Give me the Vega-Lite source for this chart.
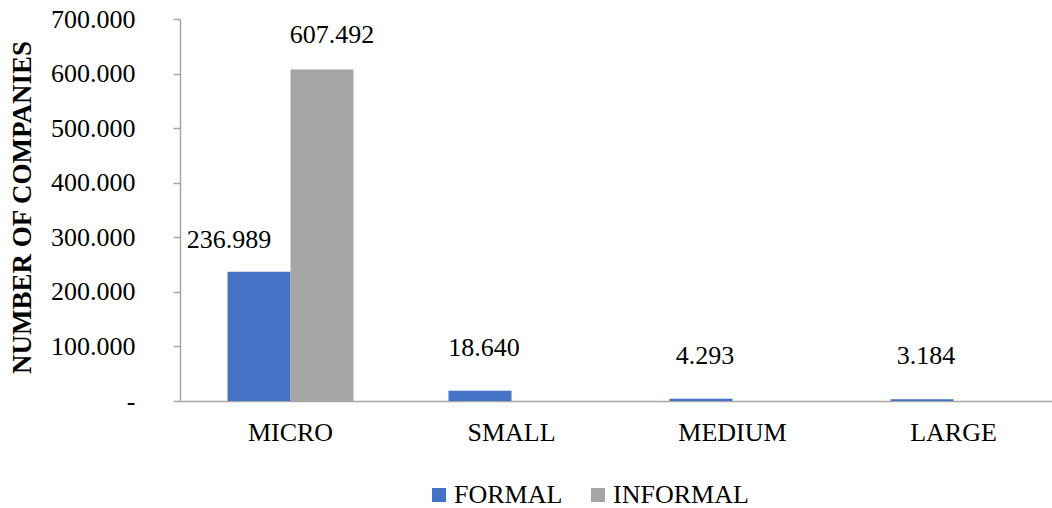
{
  "$schema": "https://vega.github.io/schema/vega-lite/v6.json",
  "width": 872,
  "height": 382,
  "autosize": {"type": "none"},
  "padding": {"left": 180, "top": 19, "right": 0, "bottom": 107},
  "background": "white",
  "data": {
    "values": [
      {"size": "MICRO", "sector": "FORMAL", "companies": 236989},
      {"size": "MICRO", "sector": "INFORMAL", "companies": 607492},
      {"size": "SMALL", "sector": "FORMAL", "companies": 18640},
      {"size": "MEDIUM", "sector": "FORMAL", "companies": 4293},
      {"size": "LARGE", "sector": "FORMAL", "companies": 3184}
    ]
  },
  "encoding": {
    "x": {
      "field": "size",
      "type": "nominal",
      "sort": ["MICRO", "SMALL", "MEDIUM", "LARGE"],
      "scale": {"paddingInner": 0.1086, "paddingOuter": 0.02715, "align": 1},
      "axis": {
        "title": null,
        "labelAngle": 0,
        "ticks": false,
        "tickSize": 0,
        "labelPadding": 18,
        "labelFont": "Times New Roman, Liberation Serif, serif",
        "labelFontSize": 26,
        "labelColor": "black",
        "domainColor": "#A6A6A6",
        "domainWidth": 1.5,
        "grid": false
      }
    },
    "xOffset": {
      "field": "sector",
      "type": "nominal",
      "scale": {"domain": ["FORMAL", "INFORMAL"], "paddingInner": 0, "paddingOuter": 0.5635}
    },
    "y": {
      "field": "companies",
      "type": "quantitative",
      "scale": {"domain": [0, 700000], "nice": false},
      "axis": {
        "title": "NUMBER OF COMPANIES",
        "values": [0, 100000, 200000, 300000, 400000, 500000, 600000, 700000],
        "labelExpr": "datum.value === 0 ? '-\u00a0\u00a0' : replace(format(datum.value, ',.0f'), ',', '.')",
        "labelFont": "Times New Roman, Liberation Serif, serif",
        "labelFontSize": 26,
        "labelColor": "black",
        "labelPadding": 38,
        "tickSize": 7,
        "tickColor": "#A6A6A6",
        "tickWidth": 1.5,
        "domainColor": "#A6A6A6",
        "domainWidth": 1.5,
        "grid": false,
        "titleFont": "Times New Roman, Liberation Serif, serif",
        "titleFontWeight": "bold",
        "titleFontSize": 27,
        "titleColor": "black",
        "titleAngle": -90,
        "titleAlign": "center",
        "titleBaseline": "middle",
        "titleX": -158,
        "titleY": 188
      }
    }
  },
  "layer": [
    {
      "mark": {"type": "bar"},
      "encoding": {
        "color": {
          "field": "sector",
          "type": "nominal",
          "scale": {"domain": ["FORMAL", "INFORMAL"], "range": ["#4472C4", "#A5A5A5"]},
          "legend": {
            "title": null,
            "orient": "none",
            "legendX": 246,
            "legendY": 463,
            "direction": "horizontal",
            "symbolType": "square",
            "symbolSize": 196,
            "symbolStrokeWidth": 0,
            "symbolOpacity": 1,
            "labelFont": "Times New Roman, Liberation Serif, serif",
            "labelFontSize": 26,
            "labelColor": "black",
            "labelOffset": 2,
            "columnPadding": 22,
            "padding": 0
          }
        }
      }
    },
    {
      "transform": [{"filter": "datum.size === 'MICRO' && datum.sector === 'FORMAL'"}],
      "mark": {
        "type": "text",
        "dx": -30,
        "dy": -24,
        "baseline": "alphabetic",
        "font": "Times New Roman, Liberation Serif, serif",
        "fontSize": 26,
        "color": "black",
        "text": {"expr": "replace(format(datum.companies, ',.0f'), ',', '.')"}
      }
    },
    {
      "transform": [{"filter": "datum.size === 'MICRO' && datum.sector === 'INFORMAL'"}],
      "mark": {
        "type": "text",
        "dx": 10,
        "dy": -26,
        "baseline": "alphabetic",
        "font": "Times New Roman, Liberation Serif, serif",
        "fontSize": 26,
        "color": "black",
        "text": {"expr": "replace(format(datum.companies, ',.0f'), ',', '.')"}
      }
    },
    {
      "transform": [{"filter": "datum.size !== 'MICRO'"}],
      "mark": {
        "type": "text",
        "dx": 4,
        "dy": -35,
        "baseline": "alphabetic",
        "font": "Times New Roman, Liberation Serif, serif",
        "fontSize": 26,
        "color": "black",
        "text": {"expr": "replace(format(datum.companies, ',.0f'), ',', '.')"}
      }
    }
  ],
  "config": {
    "view": {"stroke": null}
  }
}
